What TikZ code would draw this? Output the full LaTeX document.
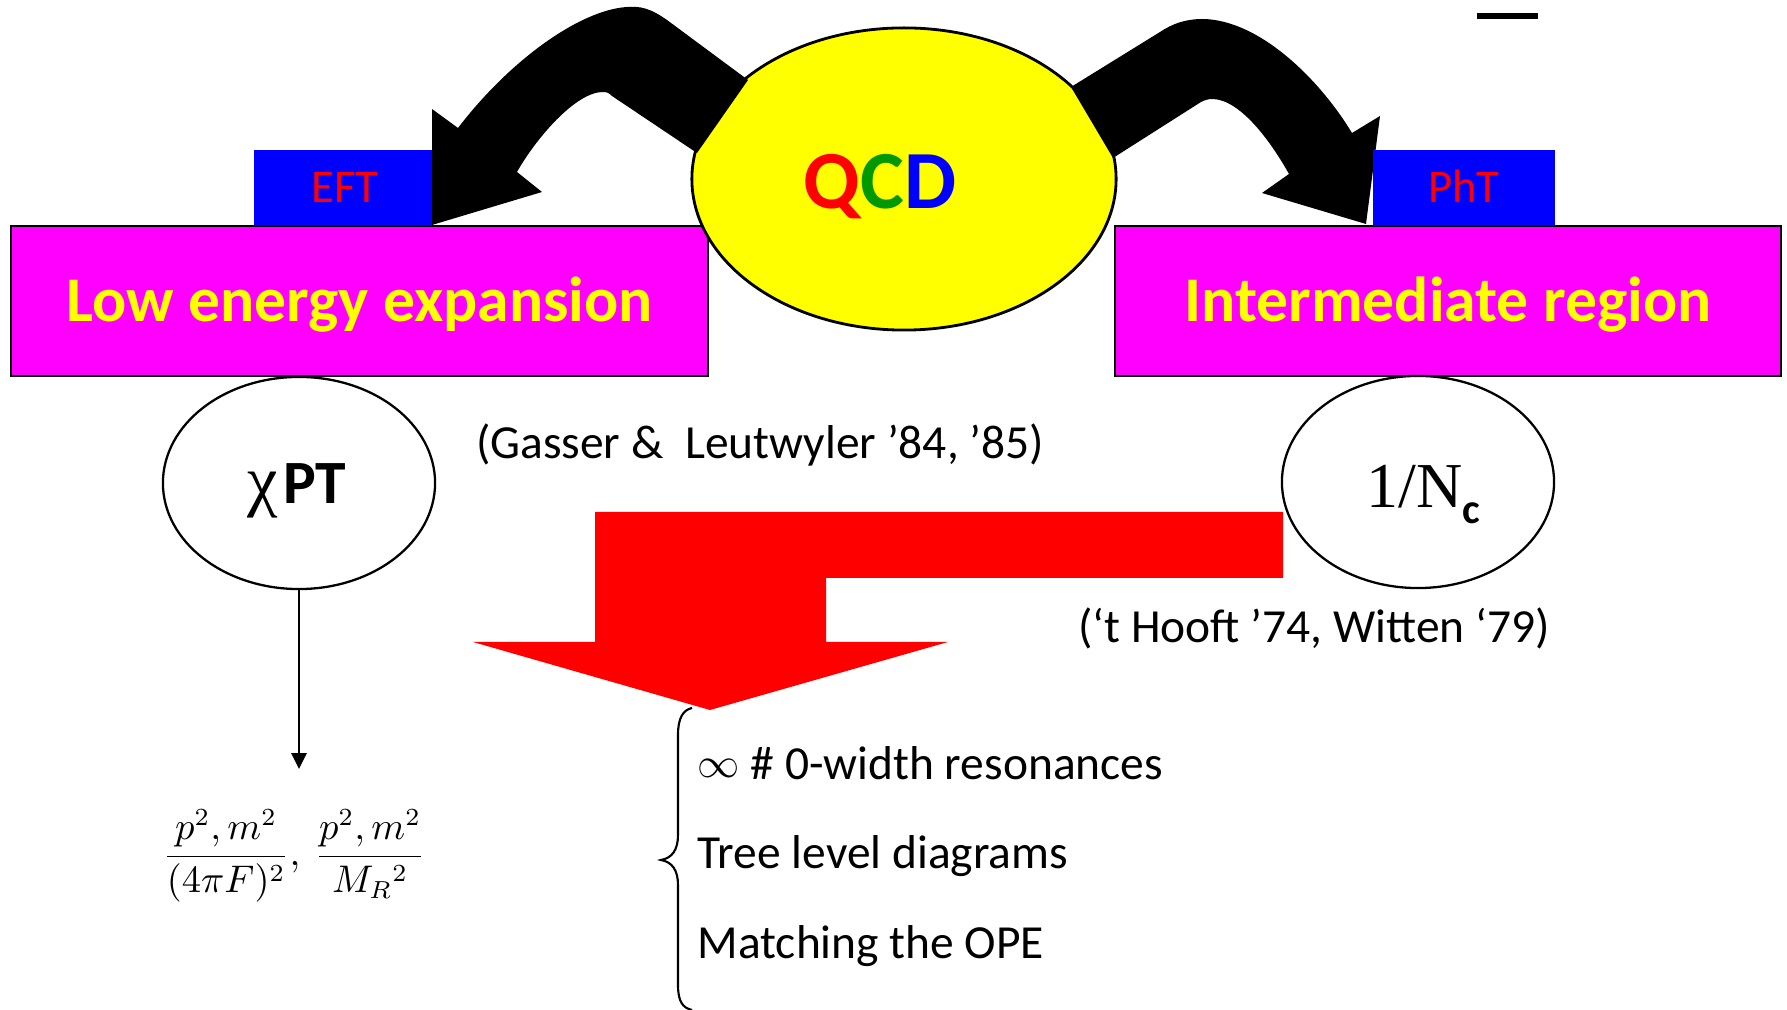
\documentclass[tikz,border=0pt]{standalone}
\usepackage{fontspec}
\setmainfont{Carlito}
\newfontfamily\timesf{Liberation Serif}
\usetikzlibrary{shapes.geometric,arrows.meta}
\definecolor{magbg}{HTML}{FF00FF}
\definecolor{bluebg}{HTML}{0000FF}
\definecolor{redc}{HTML}{FF0000}
\definecolor{yellowc}{HTML}{FFFF00}
\definecolor{greenc}{HTML}{009A00}
\tikzset{
  magbox/.style={draw=black, line width=0.7pt, fill=magbg, inner sep=0pt, minimum height=1.50cm},
  bluebox/.style={fill=bluebg, inner sep=0pt, minimum height=0.76cm},
  bigtext/.style={text=yellowc, font=\bfseries\fontsize{18.1}{20}\selectfont, inner sep=0pt},
  smalllabel/.style={text=redc, font=\fontsize{13.3}{16}\selectfont, inner sep=0pt},
  reftext/.style={font=\fontsize{13.5}{16}\selectfont, inner sep=0pt},
  smallell/.style={draw=black, line width=0.65pt, ellipse, inner sep=0pt, minimum width=2.72cm, minimum height=2.12cm},
  blackarrow/.style={fill=black},
}
\begin{document}
\begin{tikzpicture}[x=0.01cm, y=-0.01cm]
\useasboundingbox (0,0) rectangle (1787,1010);

% small underline bar at top
\fill[black] (1477,13) rectangle (1538,19);

% magenta boxes
\node[magbox, minimum width=6.97cm] (lowbox) at (359.5,301) {};
\node[magbox, minimum width=6.66cm] (intbox) at (1448,301) {};

% QCD ellipse
\node[draw=black, line width=0.8pt, fill=yellowc, ellipse, inner sep=0pt,
      minimum width=4.24cm, minimum height=3.02cm] (qcd) at (904,179) {};

% black curved arrows
\fill[blackarrow] (748,80) -- (667,20) .. controls (650,8) and (640,6) .. (627,7)
  .. controls (580,10) and (510,60) .. (458,128) -- (432,109) -- (432,225)
  -- (542,192) -- (517,172) .. controls (535,140) and (575,92) .. (603,92)
  .. controls (607,92) and (609,93) .. (612,96) -- (697,153) -- cycle;
\fill[blackarrow] (1071,87) -- (1160,32) .. controls (1172,24) and (1185,19) .. (1203,19)
  .. controls (1260,20) and (1320,80) .. (1352,133) -- (1380,116) -- (1366,224)
  -- (1262,193) -- (1289,174) .. controls (1270,140) and (1240,100) .. (1213,99)
  .. controls (1208,99) and (1205,100) .. (1201,102) -- (1113,158) -- cycle;

% blue boxes
\node[bluebox, minimum width=1.78cm] (eftbox) at (343,188) {};
\node[bluebox, minimum width=1.82cm] (phtbox) at (1464,188) {};
\node[smalllabel, anchor=base] (eft) at (345,203) {EFT};
\node[smalllabel, anchor=base] (pht) at (1464,203) {PhT};

% QCD label
\node[font=\bfseries\fontsize{23.5}{26}\selectfont, inner sep=0pt, anchor=base] (qcdlabel) at (880,209)
  {\textcolor{redc}{Q}\textcolor{greenc}{C}\textcolor{bluebg}{D}};

% box texts
\node[bigtext, anchor=base] (lowtext) at (359.5,322) {Low energy expansion};
\node[bigtext, anchor=base] (inttext) at (1448,322) {Intermediate region};

% red bent arrow
\fill[redc] (595,512) -- (1283,512) -- (1283,578) -- (826,578) -- (826,642)
  -- (948,642) -- (710,710) -- (473,642) -- (595,642) -- cycle;

% small ellipses
\node[smallell] (chpt) at (299,483) {};
\node[smallell] (nc) at (1418,482) {};
\node[inner sep=0pt, anchor=base] (chptlabel) at (297,504)
  {{\timesf\fontsize{19.5}{20}\selectfont χ}\hspace{1.5pt}{\bfseries\fontsize{17.5}{20}\selectfont PT}};
\node[inner sep=0pt, anchor=base west] (nclabel) at (1366,508)
  {{\timesf\fontsize{18.2}{20}\selectfont 1/N}\raisebox{-4.27pt}{\bfseries\fontsize{12}{14}\selectfont c}};

% references
\node[reftext, anchor=base] (gasser) at (760,459) {(Gasser \& \ Leutwyler ’84, ’85)};
\node[reftext, anchor=base] (hooft) at (1314,643) {(‘t Hooft ’74, Witten ‘79)};

% arrow from chiPT down to formula
\coordinate (fend) at (299,769);
\draw[line width=0.6pt, -{Triangle[length=4.5pt,width=4.3pt]}] (chpt.south) -- (fend);

% formula
\node[inner sep=0pt, font=\fontsize{10.5}{12}\selectfont] (formula) at (294,856)
  {$\displaystyle \frac{p^2,m^2}{(4\pi F)^2},\ \frac{p^2,m^2}{M_R{}^2}$};

% brace
\draw[line width=0.6pt] (692,708) .. controls (683,710) and (678,718) .. (678,735)
  -- (678,835) .. controls (678,850) and (672,858) .. (661,860)
  .. controls (672,862) and (678,870) .. (678,885) -- (678,985)
  .. controls (678,1002) and (683,1008) .. (692,1010);

% list items
\node[reftext, anchor=base west] (item1) at (697,780) {\raisebox{0.6pt}{\fontsize{11.5}{12}\selectfont$\infty$} \# 0-width resonances};
\node[reftext, anchor=base west] (item2) at (697,869) {Tree level diagrams};
\node[reftext, anchor=base west] (item3) at (697,959) {Matching the OPE};
\end{tikzpicture}
\end{document}
